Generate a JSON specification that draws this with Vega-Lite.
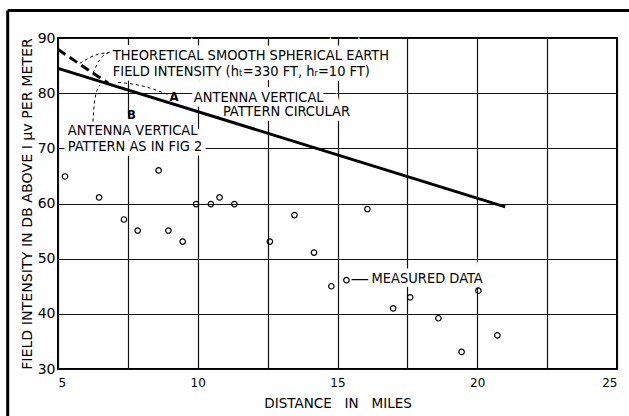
{
  "$schema": "https://vega.github.io/schema/vega-lite/v6.json",
  "width": 559,
  "height": 331,
  "autosize": "none",
  "padding": {"left": 58, "top": 38, "right": 12, "bottom": 47},
  "background": "white",
  "config": {
    "view": {"stroke": "black", "strokeWidth": 2},
    "font": "DejaVu Sans Condensed, DejaVu Sans",
    "text": {"font": "DejaVu Sans Condensed, DejaVu Sans"}
  },
  "datasets": {
    "measured": [
      {"x": 5.25, "y": 64.9}, {"x": 8.6, "y": 66.0}, {"x": 6.47, "y": 61.1},
      {"x": 7.36, "y": 57.1}, {"x": 7.85, "y": 55.1}, {"x": 8.95, "y": 55.1},
      {"x": 9.46, "y": 53.1}, {"x": 9.94, "y": 59.9}, {"x": 10.47, "y": 59.9},
      {"x": 10.78, "y": 61.1}, {"x": 11.31, "y": 59.9}, {"x": 12.58, "y": 53.1},
      {"x": 13.46, "y": 57.9}, {"x": 14.16, "y": 51.1}, {"x": 14.78, "y": 45.0},
      {"x": 15.32, "y": 46.1}, {"x": 16.07, "y": 59.0}, {"x": 16.99, "y": 41.0},
      {"x": 17.6, "y": 43.0}, {"x": 18.61, "y": 39.2}, {"x": 19.44, "y": 33.1},
      {"x": 20.04, "y": 44.2}, {"x": 20.72, "y": 36.1}
    ],
    "solid": [{"x": 5, "y": 84.5}, {"x": 21, "y": 59.4}],
    "dashed": [{"x": 5, "y": 87.9}, {"x": 6.8, "y": 81.8}],
    "leaders": [
      {"id": "t1", "x": 6.85, "y": 87.4}, {"id": "t1", "x": 6.31, "y": 86.85}, {"id": "t1", "x": 5.78, "y": 85.4},
      {"id": "t2", "x": 6.85, "y": 87.4}, {"id": "t2", "x": 6.5, "y": 86.1}, {"id": "t2", "x": 6.25, "y": 83.6},
      {"id": "a", "x": 8.94, "y": 79.75}, {"id": "a", "x": 7.94, "y": 81.4}, {"id": "a", "x": 7.15, "y": 81.95},
      {"id": "b", "x": 6.25, "y": 74.85}, {"id": "b", "x": 6.32, "y": 78.9}, {"id": "b", "x": 6.49, "y": 81.4}
    ],
    "arrow": [{"x": 15.5, "y": 46.2}, {"x": 16.1, "y": 46.2}],
    "labels": [
      {"x": 6.96, "y": 86.65, "text": "THEORETICAL SMOOTH SPHERICAL EARTH"},
      {"x": 6.96, "y": 83.9, "text": "FIELD INTENSITY (hₜ=330 FT, hᵣ=10 FT)"},
      {"x": 9.86, "y": 79.2, "text": "ANTENNA VERTICAL"},
      {"x": 10.9, "y": 76.5, "text": "PATTERN CIRCULAR"},
      {"x": 5.35, "y": 73.2, "text": "ANTENNA VERTICAL"},
      {"x": 5.35, "y": 70.3, "text": "PATTERN AS IN FIG 2"},
      {"x": 16.22, "y": 46.25, "text": "MEASURED DATA"}
    ],
    "letters": [
      {"x": 9.15, "y": 79.3, "text": "A"},
      {"x": 7.63, "y": 76.0, "text": "B"}
    ],
    "frame": [
      {"x": 3.2, "x2": 25.6, "y": 95, "y2": 95},
      {"x": 3.2, "x2": 3.2, "y": 95, "y2": 21.4}
    ]
  },
  "encoding": {
    "x": {
      "field": "x", "type": "quantitative",
      "scale": {"domain": [5, 25], "nice": false, "zero": false},
      "axis": {
        "values": [5, 7.5, 10, 12.5, 15, 17.5, 20, 22.5, 25],
        "labelExpr": "datum.value % 5 === 0 ? datum.label : ''",
        "grid": true, "gridColor": "#111", "gridWidth": 1.2, "gridOpacity": 1,
        "ticks": false, "domain": false,
        "labelFont": "DejaVu Sans",
        "labelFontSize": 12, "labelPadding": 8, "labelColor": "black",
        "title": "DISTANCE\u00a0\u00a0\u00a0IN\u00a0\u00a0\u00a0MILES", "titleFont": "DejaVu Sans", "titleFontSize": 13.5, "titleFontWeight": "normal",
        "titleColor": "black", "titlePadding": 8
      }
    },
    "y": {
      "field": "y", "type": "quantitative",
      "scale": {"domain": [30, 90], "nice": false, "zero": false},
      "axis": {
        "values": [30, 40, 50, 60, 70, 80, 90],
        "grid": true, "gridColor": "#111", "gridWidth": 1.2, "gridOpacity": 1,
        "ticks": false, "domain": false,
        "labelFont": "DejaVu Sans",
        "labelFontSize": 14, "labelPadding": 3, "labelColor": "black",
        "title": "FIELD INTENSITY IN DB ABOVE I μv PER METER", "titleFont": "DejaVu Sans", "titleFontSize": 14.2,
        "titleFontWeight": "normal", "titleColor": "black", "titlePadding": 3
      }
    }
  },
  "layer": [
    {
      "data": {"name": "frame"},
      "mark": {"type": "rule", "color": "black", "strokeWidth": 3},
      "encoding": {"x2": {"field": "x2"}, "y2": {"field": "y2"}}
    },
    {
      "data": {"name": "labels"},
      "mark": {"type": "text", "align": "left", "baseline": "middle", "fontSize": 14.5, "color": "white", "stroke": "white", "strokeWidth": 9},
      "encoding": {"text": {"field": "text"}}
    },
    {
      "data": {"name": "measured"},
      "mark": {"type": "point", "shape": "circle", "filled": false, "size": 30, "color": "black", "strokeWidth": 1.2, "opacity": 1}
    },
    {
      "data": {"name": "solid"},
      "mark": {"type": "line", "color": "black", "strokeWidth": 3}
    },
    {
      "data": {"name": "dashed"},
      "mark": {"type": "line", "color": "black", "strokeWidth": 3, "strokeDash": [9, 5]}
    },
    {
      "data": {"name": "leaders"},
      "mark": {"type": "line", "color": "black", "strokeWidth": 1, "strokeDash": [3, 3], "interpolate": "monotone"},
      "encoding": {"detail": {"field": "id"}}
    },
    {
      "data": {"name": "arrow"},
      "mark": {"type": "line", "color": "black", "strokeWidth": 1.2}
    },
    {
      "data": {"name": "labels"},
      "mark": {"type": "text", "align": "left", "baseline": "middle", "fontSize": 14.5, "color": "black"},
      "encoding": {"text": {"field": "text"}}
    },
    {
      "data": {"name": "letters"},
      "mark": {"type": "text", "align": "center", "baseline": "middle", "fontSize": 13, "fontWeight": "bold", "color": "black"},
      "encoding": {"text": {"field": "text"}}
    }
  ]
}
